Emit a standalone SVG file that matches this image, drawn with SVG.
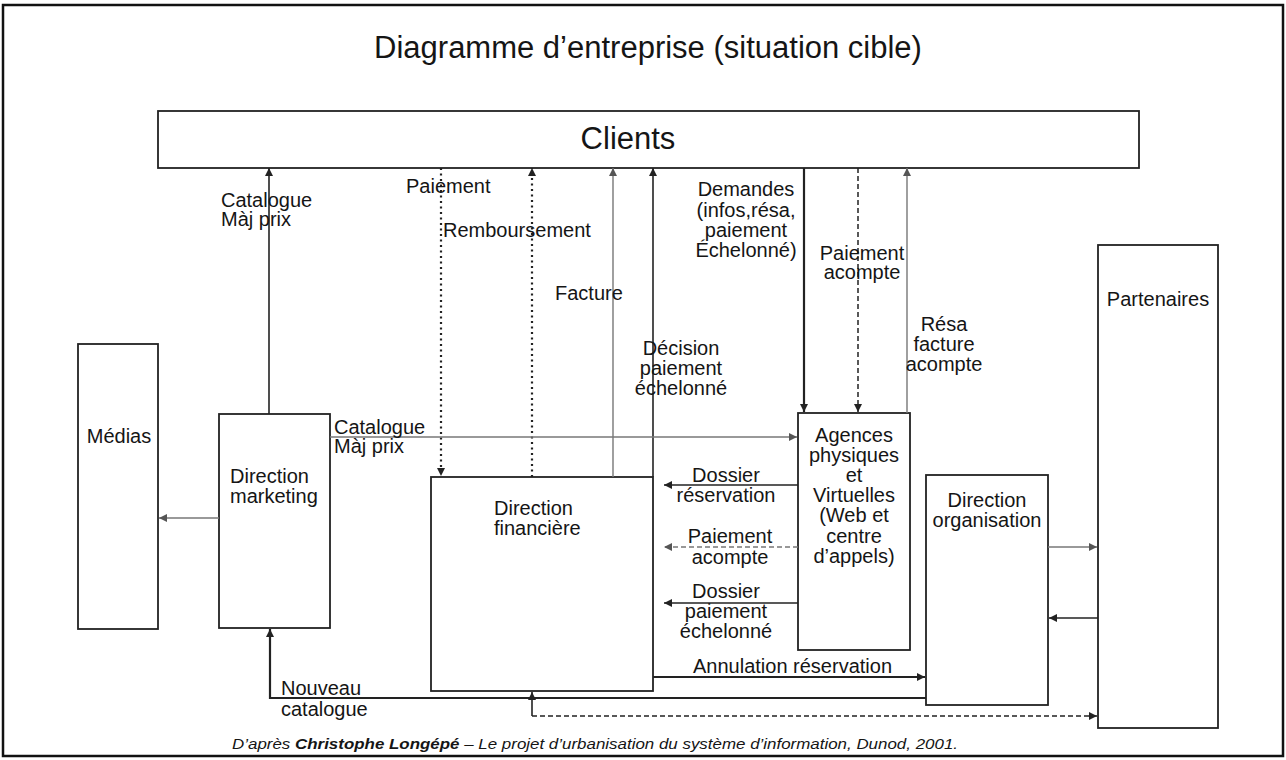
<svg xmlns="http://www.w3.org/2000/svg" width="1286" height="760" viewBox="0 0 1286 760">
<defs>
<marker id="ah" viewBox="0 0 10 10" refX="10" refY="5" markerWidth="9" markerHeight="8" markerUnits="userSpaceOnUse" orient="auto"><path d="M0,0 L10,5 L0,10 z" fill="#222"/></marker>
<marker id="ahg" viewBox="0 0 10 10" refX="10" refY="5" markerWidth="9" markerHeight="8" markerUnits="userSpaceOnUse" orient="auto"><path d="M0,0 L10,5 L0,10 z" fill="#555"/></marker>
</defs>
<style>
text{font-family:"Liberation Sans",Arial,sans-serif;fill:#151515;font-size:20px}
.c{text-anchor:middle}
.big{font-size:31px}
.box{fill:#fff;stroke:#222;stroke-width:1.8}
.ln{fill:none;stroke:#222;stroke-width:1.6}
.lnb{fill:none;stroke:#222;stroke-width:2.2}
.lg{fill:none;stroke:#777;stroke-width:1.4}
.dot{fill:none;stroke:#222;stroke-width:2.2;stroke-dasharray:2 3.5}
.dash{fill:none;stroke:#222;stroke-width:1.5;stroke-dasharray:5 3}
.dashg{fill:none;stroke:#777;stroke-width:1.5;stroke-dasharray:5 3}
.cap{font-size:14px;font-style:italic}
</style>
<rect x="0" y="0" width="1286" height="760" fill="#fff"/>
<rect x="3" y="5" width="1280" height="751" fill="none" stroke="#111" stroke-width="2.5"/>
<text class="c big" x="648" y="58">Diagramme d’entreprise (situation cible)</text>

<g id="clients"><rect class="box" x="158" y="111" width="981" height="57"/><text class="c big" x="628" y="149">Clients</text></g>
<g id="medias"><rect class="box" x="78" y="344" width="80" height="285"/><text class="c" x="119" y="443">Médias</text></g>
<g id="marketing"><rect class="box" x="219" y="414" width="111" height="214"/><text x="230" y="483">Direction</text><text x="230" y="503">marketing</text></g>
<g id="financiere"><rect class="box" x="431" y="477" width="222" height="214"/><text x="494" y="515">Direction</text><text x="494" y="535">financière</text></g>
<g id="agences"><rect class="box" x="798" y="413" width="112" height="237"/>
<text class="c" x="854" y="442">Agences</text><text class="c" x="854" y="462">physiques</text><text class="c" x="854" y="482">et</text><text class="c" x="854" y="502">Virtuelles</text><text class="c" x="854" y="522">(Web et</text><text class="c" x="854" y="543">centre</text><text class="c" x="854" y="563">d’appels)</text></g>
<g id="organisation"><rect class="box" x="926" y="475" width="122" height="230"/><text class="c" x="987" y="507">Direction</text><text class="c" x="987" y="527">organisation</text></g>
<g id="partenaires"><rect class="box" x="1098" y="245" width="120" height="483"/><text class="c" x="1158" y="306">Partenaires</text></g>

<g id="connectors">
<path class="ln" d="M269,414 V168" marker-end="url(#ah)"/>
<path class="dot" d="M441,168 V476" marker-end="url(#ah)"/>
<path class="dot" d="M532,477 V168" marker-end="url(#ah)"/>
<path class="lg" d="M613,477 V168" marker-end="url(#ahg)"/>
<path class="ln" d="M653,477 V168" marker-end="url(#ah)"/>
<path class="lnb" d="M804,168 V412" marker-end="url(#ah)"/>
<path class="dash" d="M858,168 V412" marker-end="url(#ah)"/>
<path class="lg" d="M907,413 V168" marker-end="url(#ahg)"/>
<path class="lg" d="M330,437 H797" marker-end="url(#ahg)"/>
<path class="lg" d="M219,518 H159" marker-end="url(#ahg)"/>
<path class="ln" d="M798,485 H664" marker-end="url(#ah)"/>
<path class="dashg" d="M798,547 H664" marker-end="url(#ahg)"/>
<path class="ln" d="M798,603 H664" marker-end="url(#ah)"/>
<path class="lnb" d="M653,677 H925" marker-end="url(#ah)"/>
<path class="lnb" d="M926,698 H270 V629" marker-end="url(#ah)"/>
<path class="dash" d="M532,716 H1097" marker-end="url(#ah)"/>
<path class="ln" d="M532,716 V692" marker-end="url(#ah)"/>
<path class="lg" d="M1048,547 H1097" marker-end="url(#ahg)"/>
<path class="ln" d="M1098,618 H1049" marker-end="url(#ah)"/>
</g>

<g id="labels">
<text x="221" y="207">Catalogue</text><text x="221" y="226">Màj prix</text>
<text x="406" y="193">Paiement</text>
<text x="443" y="237">Remboursement</text>
<text x="555" y="300">Facture</text>
<text class="c" x="681" y="355">Décision</text><text class="c" x="681" y="375">paiement</text><text class="c" x="681" y="395">échelonné</text>
<text class="c" x="746" y="196">Demandes</text><text class="c" x="746" y="217">(infos,résa,</text><text class="c" x="746" y="237">paiement</text><text class="c" x="746" y="257">Échelonné)</text>
<text class="c" x="862" y="260">Paiement</text><text class="c" x="862" y="279">acompte</text>
<text class="c" x="944" y="331">Résa</text><text class="c" x="944" y="351">facture</text><text class="c" x="944" y="371">acompte</text>
<text x="334" y="434">Catalogue</text><text x="334" y="453">Màj prix</text>
<text class="c" x="726" y="482">Dossier</text><text class="c" x="726" y="502">réservation</text>
<text class="c" x="730" y="543">Paiement</text><text class="c" x="730" y="564">acompte</text>
<text class="c" x="726" y="598">Dossier</text><text class="c" x="726" y="618">paiement</text><text class="c" x="726" y="638">échelonné</text>
<text x="693" y="673">Annulation réservation</text>
<text x="281" y="695">Nouveau</text><text x="281" y="716">catalogue</text>
<text class="cap" x="232" y="749" textLength="726" lengthAdjust="spacingAndGlyphs">D’après  <tspan font-weight="bold">Christophe Longépé</tspan> – Le projet d’urbanisation du système d’information, Dunod, 2001.</text>
</g>
</svg>
